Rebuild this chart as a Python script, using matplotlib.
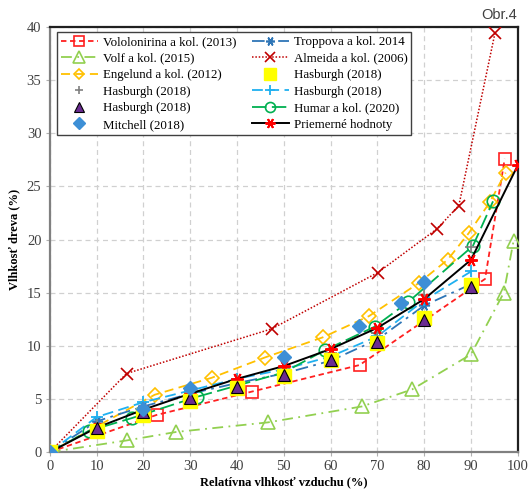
import matplotlib
matplotlib.use("Agg")
import matplotlib.pyplot as plt

# Relative air humidity (%) and wood moisture content (%) per source
vol_rh = [0, 22.8, 43.2, 66.2, 93.0, 97.2]
vol_mc = [0, 3.5, 5.7, 8.2, 16.3, 27.6]

volf_rh = [0, 16.4, 27.0, 46.6, 66.7, 77.4, 90.0, 97.0, 99.1]
volf_mc = [0, 1.1, 1.9, 2.8, 4.3, 5.9, 9.2, 15.0, 19.9]

eng_rh = [0, 22.4, 34.6, 45.9, 58.3, 68.2, 78.8, 85.0, 89.5, 94.0, 97.4]
eng_mc = [0, 5.4, 7.0, 8.9, 10.8, 12.8, 15.9, 18.1, 20.6, 23.5, 26.3]

hg_rh = [0, 10, 20, 30, 40, 50, 60, 70, 80, 90]
hg_mc = [0, 2.6, 4.2, 5.6, 6.8, 7.9, 9.3, 11.2, 14.8, 19.3]

htri_rh = [0, 10, 20, 30, 40, 50, 60, 70, 80, 90]
htri_mc = [0, 2.3, 3.8, 5.1, 6.1, 7.3, 8.7, 10.4, 12.4, 15.5]

mit_rh = [0, 20, 30, 50, 66, 75, 80]
mit_mc = [0, 4.1, 6.0, 9.0, 11.9, 14.0, 16.0]

trop_rh = [0, 10, 20, 30, 40, 50, 60, 70, 80, 90]
trop_mc = [0, 2.9, 4.3, 5.5, 6.5, 7.4, 8.6, 10.6, 13.8, 15.8]

alm_rh = [0, 16.4, 47.4, 70.1, 82.7, 87.4, 95.1]
alm_mc = [0, 7.4, 11.6, 16.9, 21.0, 23.2, 39.4]

hsq_rh = [0, 10, 20, 30, 40, 50, 60, 70, 80, 90]
hsq_mc = [0, 2.0, 3.5, 4.8, 6.0, 7.2, 8.7, 10.3, 12.6, 15.7]

hcy_rh = [0, 10, 20, 30, 40, 50, 60, 70, 80, 90]
hcy_mc = [0, 3.3, 4.7, 5.8, 6.9, 7.8, 9.0, 10.9, 14.3, 17.0]

hum_rh = [0, 8.3, 17.5, 31.4, 50.0, 58.8, 69.4, 76.5, 90.4, 94.7]
hum_mc = [0, 2.0, 3.2, 5.2, 7.5, 9.6, 11.8, 14.1, 19.4, 23.6]

avg_rh = [0, 10, 20, 30, 40, 50, 60, 70, 80, 90, 100]
avg_mc = [0, 2.3, 4.0, 5.5, 6.9, 8.1, 9.7, 11.7, 14.4, 18.1, 27.0]

labels = [
    "Vololonirina a kol. (2013)", "Volf a kol. (2015)", "Engelund a kol. (2012)",
    "Hasburgh (2018)", "Hasburgh (2018)", "Mitchell (2018)",
    "Troppova a kol. 2014", "Almeida a kol. (2006)", "Hasburgh (2018)",
    "Hasburgh (2018)", "Humar a kol. (2020)", "Priemerné hodnoty",
]

serif = "Liberation Serif"
plt.rcParams["font.family"] = [serif, "DejaVu Serif"]

fig = plt.figure(figsize=(5.30, 4.92), dpi=100)
ax = fig.add_axes([0.094, 0.081, 0.883, 0.864])

star = (6, 2, 90)
lw = 1.3

h = []
h += ax.plot(vol_rh, vol_mc, color="#ff2020", ls=(0, (3, 2)), lw=lw, marker="s", ms=9,
             mfc="none", mec="#ff2020", mew=1.2, zorder=3)
h += ax.plot(volf_rh, volf_mc, color="#92d050", ls=(0, (6, 3, 1, 3)), lw=lw, marker="^", ms=10,
             mfc="none", mec="#92d050", mew=1.2, zorder=3)
h += ax.plot(eng_rh, eng_mc, color="#ffc000", ls=(0, (5, 3)), lw=lw, marker="D", ms=7,
             mfc="none", mec="#ffc000", mew=1.2, zorder=3)
h += ax.plot(hg_rh, hg_mc, ls="none", marker="+", ms=8, mec="#808080", mew=1.2, zorder=4)
h += ax.plot(htri_rh, htri_mc, ls="none", marker="^", ms=9, mfc="#6a2c91", mec="black",
             mew=0.8, zorder=7)
h += ax.plot(mit_rh, mit_mc, ls="none", marker="D", ms=7.5, mfc="#3d8fd6", mec="#3d8fd6",
             zorder=8)
h += ax.plot(trop_rh, trop_mc, color="#2e75b6", ls=(0, (7, 3, 1.5, 3)), lw=lw, marker=star, ms=8,
             mec="#2e75b6", mew=1.2, zorder=3)
h += ax.plot(alm_rh, alm_mc, color="#c00000", ls=(0, (1, 1.2)), lw=1.1, marker="x", ms=9,
             mec="#c00000", mew=1.2, zorder=3)
h += ax.plot(hsq_rh, hsq_mc, ls="none", marker="s", ms=10, mfc="#ffff00", mec="#ffff00",
             zorder=6)
h += ax.plot(hcy_rh, hcy_mc, color="#1fb0f0", ls=(0, (6, 3)), lw=lw, marker="+", ms=9,
             mec="#1fb0f0", mew=1.3, zorder=3)
h += ax.plot(hum_rh, hum_mc, color="#00b050", ls=(0, (8, 3)), lw=lw, marker="o", ms=9,
             mfc="none", mec="#00b050", mew=1.2, zorder=3)
h += ax.plot(avg_rh, avg_mc, color="black", ls="-", lw=1.4, marker=star, ms=9,
             mec="#ff0000", mew=1.4, zorder=5)

ax.set_xlim(0, 100)
ax.set_ylim(0, 40)
ax.set_xticks(range(0, 101, 10))
ax.set_yticks(range(0, 41, 5))
ax.grid(True, color="#d0d0d0", ls=(0, (4, 3)), lw=0.9)
ax.set_axisbelow(True)

for side in ("left", "bottom"):
    ax.spines[side].set_color("#808080")
    ax.spines[side].set_linewidth(1.6)
for side in ("top", "right"):
    ax.spines[side].set_color("#202020")
    ax.spines[side].set_linewidth(1.6)

ax.tick_params(axis="both", direction="out", length=3, width=0.8, color="#b0b0b0",
               labelsize=10.5, labelcolor="#404040", pad=3)

ax.set_xlabel("Relatívna vlhkosť vzduchu (%)", fontsize=9, fontweight="bold", labelpad=2)
ax.set_ylabel("Vlhkosť dreva (%)", fontsize=9, fontweight="bold", labelpad=5)

leg = ax.legend(h, labels, ncol=2, loc="upper left", bbox_to_anchor=(0.015, 0.988),
                fontsize=9.3, frameon=True, fancybox=False, framealpha=1,
                edgecolor="#404040", handlelength=2.9, handletextpad=0.35,
                labelspacing=0.35, columnspacing=1.2, borderpad=0.3, borderaxespad=0.0,
                markerscale=0.8)
leg.get_frame().set_linewidth(1.0)

fig.text(0.975, 0.970, "Obr.4", ha="right", va="center", fontsize=10.5,
         family="Liberation Sans", color="#404040")

fig.savefig("out.png", dpi=100)
